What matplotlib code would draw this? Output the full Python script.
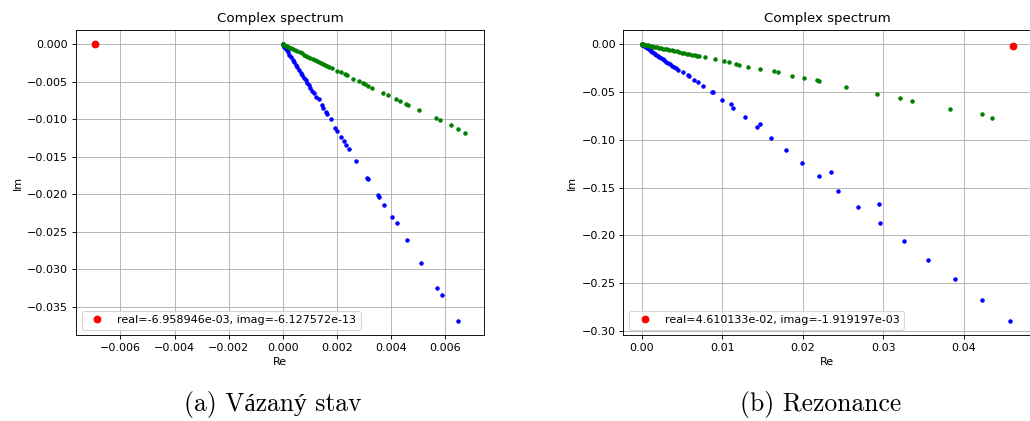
import matplotlib
matplotlib.use("Agg")
import matplotlib.pyplot as plt

# ---------------- data: (a) bound state ----------------
a_blue_re = [0.0, 0.00001, 0.00003, 0.00006, 0.0001, 0.00014, 0.00019, 0.00024, 0.0003, 0.00036,
             0.00042, 0.00048, 0.00054, 0.0006, 0.00066, 0.00072, 0.00078, 0.00084, 0.0009, 0.00096,
             0.00102, 0.00108, 0.00114, 0.00122, 0.00132, 0.00144, 0.0015, 0.0016, 0.00165, 0.00177,
             0.001946, 0.002009, 0.002157, 0.002257, 0.002353, 0.002453, 0.002712, 0.003107, 0.003144,
             0.003536, 0.003573, 0.003747, 0.004043, 0.004202, 0.004598, 0.005116, 0.005697, 0.005882,
             0.006485]
a_blue_im = [0.0, -0.00006, -0.00017, -0.00034, -0.00057, -0.0008, -0.00109, -0.00137, -0.00172, -0.00206,
             -0.0024, -0.00275, -0.00309, -0.00343, -0.00378, -0.00412, -0.00446, -0.0048, -0.00515, -0.00549,
             -0.00583, -0.00618, -0.00652, -0.00698, -0.00733, -0.00809, -0.00853, -0.00906, -0.00929, -0.00999,
             -0.01119, -0.01155, -0.01231, -0.01288, -0.01341, -0.01399, -0.01551, -0.01781, -0.01791,
             -0.02012, -0.02039, -0.02145, -0.02305, -0.02385, -0.02604, -0.0291, -0.03243, -0.0334,
             -0.03691]

a_green_re = [0.0, 0.00001, 0.00003, 0.00006, 0.0001, 0.00015, 0.0002, 0.00026, 0.00032, 0.00039,
              0.00046, 0.00054, 0.00062, 0.0007, 0.00078, 0.00086, 0.00094, 0.00102, 0.0011, 0.00118,
              0.00126, 0.00134, 0.00142, 0.0015, 0.00157, 0.00163,
              0.0017, 0.0018, 0.00202, 0.00214, 0.00229, 0.00238, 0.00261, 0.0028, 0.002945, 0.003045,
              0.00313, 0.00329, 0.00371, 0.00387, 0.0042, 0.00433, 0.00457, 0.00464, 0.00503, 0.00567,
              0.00582, 0.00621, 0.00648, 0.00675]
a_green_im = [0.0, -0.00002, -0.00005, -0.0001, -0.00018, -0.00026, -0.00035, -0.00046, -0.00056, -0.00068,
              -0.0008, -0.00095, -0.00109, -0.00123, -0.00137, -0.00151, -0.00165, -0.00179, -0.00193, -0.00207,
              -0.00221, -0.00235, -0.00249, -0.00263, -0.00276, -0.00287,
              -0.003, -0.00316, -0.00351, -0.0037, -0.00395, -0.00408, -0.00458, -0.00493, -0.0052, -0.00533,
              -0.00551, -0.00578, -0.00649, -0.00672, -0.00733, -0.0076, -0.00791, -0.00813, -0.00879, -0.00986,
              -0.01013, -0.01075, -0.01133, -0.01178]

a_red_re = [-6.958946e-03]
a_red_im = [-6.127572e-13]
a_label = "real=-6.958946e-03, imag=-6.127572e-13"

# ---------------- data: (b) resonance ----------------
b_blue_re = [0.0, 0.00002, 0.00005, 0.0001, 0.00017, 0.00025, 0.00035, 0.00046, 0.00058, 0.0007,
             0.00084, 0.00098, 0.00113, 0.00128, 0.00145, 0.00162, 0.0018, 0.00198, 0.00217, 0.00237,
             0.00258, 0.0028, 0.00302, 0.00325, 0.00348, 0.00372, 0.00396, 0.0042,
             0.00443, 0.00505, 0.00567, 0.00587, 0.00649, 0.00699, 0.00753, 0.00869, 0.00885,
             0.00993, 0.01104, 0.01126, 0.01278, 0.01431, 0.01464, 0.01601, 0.01787, 0.01986,
             0.02197, 0.02349, 0.02432, 0.02689, 0.02945, 0.02954, 0.03251, 0.03553, 0.03893,
             0.04232, 0.04579]
b_blue_im = [0.0, -0.00012, -0.0003, -0.0006, -0.00102, -0.0015, -0.0021, -0.00276, -0.00348, -0.0042,
             -0.00504, -0.00588, -0.00678, -0.00768, -0.0087, -0.00972, -0.0108, -0.01188, -0.01302, -0.01422,
             -0.01548, -0.0168, -0.01812, -0.0195, -0.02088, -0.02232, -0.02376, -0.0252,
             -0.0266, -0.0293, -0.0318, -0.0335, -0.037, -0.0391, -0.0433, -0.0496, -0.0502,
             -0.058, -0.0628, -0.0663, -0.0758, -0.0869, -0.0837, -0.0984, -0.1106, -0.1242,
             -0.1381, -0.1336, -0.1535, -0.1699, -0.1674, -0.1873, -0.2055, -0.2254, -0.2459,
             -0.2676, -0.2899]

b_green_re = [0.0, 0.00002, 0.00006, 0.00012, 0.0002, 0.0003, 0.00042, 0.00055, 0.0007, 0.00086,
              0.00104, 0.00123, 0.00143, 0.00164, 0.00186, 0.0021, 0.00234, 0.0026, 0.00286, 0.00313,
              0.00341, 0.0037, 0.004, 0.0043, 0.00462, 0.00495, 0.00528, 0.0056, 0.0059, 0.0062,
              0.0066, 0.0069, 0.0071,
              0.00782, 0.00906, 0.01018, 0.01084, 0.01167, 0.01208, 0.01319, 0.01473, 0.01647, 0.01692,
              0.0187, 0.02014, 0.02176, 0.022, 0.02532, 0.0292, 0.03202, 0.03359, 0.03831, 0.04224,
              0.04356]
b_green_im = [0.0, -0.00004, -0.0001, -0.00021, -0.00035, -0.00053, -0.00074, -0.00096, -0.00123, -0.00151,
              -0.00182, -0.00215, -0.0025, -0.00287, -0.00326, -0.00368, -0.0041, -0.00455, -0.005, -0.00548,
              -0.00597, -0.00648, -0.007, -0.00753, -0.00809, -0.00866, -0.00924, -0.0098, -0.01033, -0.01085,
              -0.01155, -0.01208, -0.01243,
              -0.0136, -0.0157, -0.0178, -0.0188, -0.0209, -0.0217, -0.0234, -0.0258, -0.0279, -0.0293,
              -0.0328, -0.0353, -0.0377, -0.0387, -0.0444, -0.0517, -0.0559, -0.0593, -0.0674, -0.0733,
              -0.0768]

b_red_re = [4.610133e-02]
b_red_im = [-1.919197e-03]
b_label = "real=4.610133e-02, imag=-1.919197e-03"

title = "Complex spectrum"
captions = ["(a) Vázaný stav", "(b) Rezonance"]

# ---------------- figure ----------------
DPI = 80
fig = plt.figure(figsize=(1030 / DPI, 421 / DPI), dpi=DPI)

ax_w = 408 / 1030
ax_b = 1 - 335.2 / 421
ax_h = 304.8 / 421
axA = fig.add_axes([76 / 1030, ax_b, ax_w, ax_h])
axB = fig.add_axes([623.4 / 1030, ax_b, ax_w, ax_h])

panels = [
    (axA, a_blue_re, a_blue_im, a_green_re, a_green_im, a_red_re, a_red_im, a_label),
    (axB, b_blue_re, b_blue_im, b_green_re, b_green_im, b_red_re, b_red_im, b_label),
]
for ax, bre, bim, gre, gim, rre, rim, lab in panels:
    ax.plot(bre, bim, "b.")
    ax.plot(gre, gim, "g.")
    ax.plot(rre, rim, "ro", label=lab)
    ax.set_title(title, pad=7.5)
    ax.set_xlabel("Re")
    ax.set_ylabel("Im")
    ax.grid(True)
    ax.legend(loc="lower left")

cap_y = 1 - 411 / 421
cap_font = ["cmr10", "Liberation Serif"]
fig.text(272.5 / 1030, cap_y, captions[0], ha="center", va="baseline",
         fontsize=23, family=cap_font)
fig.text(820.5 / 1030, cap_y, captions[1], ha="center", va="baseline",
         fontsize=23, family=cap_font)

fig.savefig("out.png", dpi=DPI)
